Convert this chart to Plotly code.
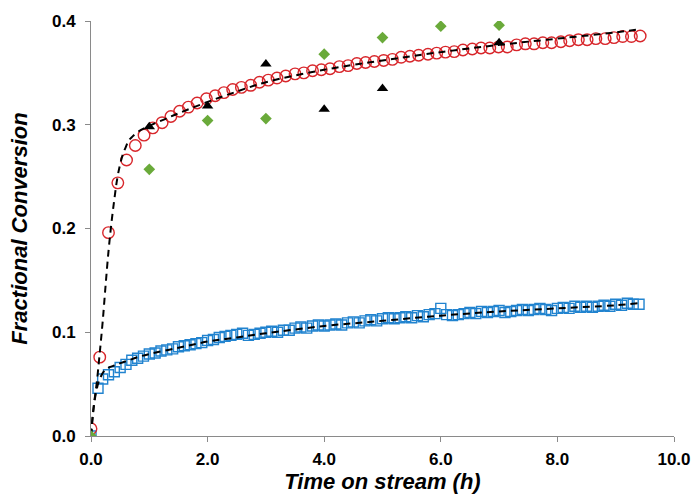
import plotly.graph_objects as go

# ---- data ----
red_t = [0.00, 0.15, 0.30, 0.46, 0.61, 0.76, 0.91, 1.06, 1.22, 1.37, 1.52, 1.67, 1.82, 1.98,
         2.13, 2.28, 2.43, 2.58, 2.74, 2.89, 3.04, 3.19, 3.34, 3.50, 3.65, 3.80, 3.95, 4.10,
         4.26, 4.41, 4.56, 4.71, 4.86, 5.02, 5.17, 5.32, 5.47, 5.62, 5.78, 5.93, 6.08, 6.23,
         6.38, 6.54, 6.69, 6.84, 6.99, 7.14, 7.30, 7.45, 7.60, 7.75, 7.90, 8.06, 8.21, 8.36,
         8.51, 8.66, 8.82, 8.97, 9.12, 9.27, 9.42]
red_y = [0.007, 0.076, 0.196, 0.244, 0.266, 0.280, 0.290, 0.297, 0.302, 0.308, 0.313, 0.317,
         0.321, 0.325, 0.328, 0.331, 0.334, 0.336, 0.338, 0.341, 0.343, 0.345, 0.347, 0.349,
         0.350, 0.352, 0.353, 0.354, 0.356, 0.357, 0.359, 0.360, 0.361, 0.362, 0.363, 0.365,
         0.366, 0.367, 0.368, 0.369, 0.370, 0.3705, 0.372, 0.373, 0.374, 0.374, 0.375, 0.375,
         0.377, 0.378, 0.378, 0.379, 0.379, 0.380, 0.381, 0.382, 0.382, 0.383, 0.383, 0.384,
         0.385, 0.385, 0.3855]

red_fit_t = [0, 0.05, 0.1, 0.15, 0.2, 0.25, 0.3, 0.35, 0.4, 0.45, 0.5, 0.55, 0.6, 0.65, 0.7,
             0.8, 1.0, 1.25, 1.5, 2.0, 2.5, 3.0, 4.0, 5.0, 6.0, 7.0, 8.0, 9.0, 9.4]
red_fit_y = [0.0, 0.030, 0.052, 0.080, 0.110, 0.145, 0.178, 0.205, 0.228, 0.248, 0.262,
             0.272, 0.279, 0.285, 0.288, 0.293, 0.299, 0.305, 0.311, 0.322, 0.332, 0.341,
             0.353, 0.362, 0.370, 0.377, 0.383, 0.389, 0.392]

blue_t = [0.0, 0.12, 0.2, 0.3, 0.4, 0.5, 0.6, 0.7, 0.8, 0.9, 1.0, 1.1, 1.2, 1.3, 1.4, 1.5,
          1.6, 1.7, 1.8, 1.9, 2.0, 2.1, 2.2, 2.3, 2.4, 2.5, 2.6, 2.7, 2.8, 2.9, 3.0, 3.1,
          3.2, 3.3, 3.4, 3.5, 3.6, 3.7, 3.8, 3.9, 4.0, 4.1, 4.2, 4.3, 4.4, 4.5, 4.6, 4.7,
          4.8, 4.9, 5.0, 5.1, 5.2, 5.3, 5.4, 5.5, 5.6, 5.7, 5.8, 5.9, 6.0, 6.1, 6.2, 6.3,
          6.4, 6.5, 6.6, 6.7, 6.8, 6.9, 7.0, 7.1, 7.2, 7.3, 7.4, 7.5, 7.6, 7.7, 7.8, 7.9,
          8.0, 8.1, 8.2, 8.3, 8.4, 8.5, 8.6, 8.7, 8.8, 8.9, 9.0, 9.1, 9.2, 9.3, 9.4]
blue_y = [0.000, 0.046, 0.055, 0.059, 0.062, 0.066, 0.069, 0.073, 0.075, 0.077, 0.079, 0.080,
          0.082, 0.083, 0.084, 0.086, 0.087, 0.088, 0.089, 0.090, 0.092, 0.093, 0.095, 0.096,
          0.097, 0.098, 0.099, 0.097, 0.098, 0.099, 0.100, 0.101, 0.100, 0.102, 0.102, 0.104,
          0.105, 0.104, 0.106, 0.107, 0.106, 0.107, 0.108, 0.107, 0.109, 0.110, 0.109, 0.111,
          0.112, 0.111, 0.113, 0.114, 0.113, 0.114, 0.115, 0.114, 0.116, 0.115, 0.117, 0.118,
          0.123, 0.117, 0.116, 0.117, 0.118, 0.119, 0.118, 0.120, 0.119, 0.120, 0.121, 0.119,
          0.120, 0.121, 0.122, 0.121, 0.122, 0.123, 0.122, 0.121, 0.123, 0.124, 0.123, 0.125,
          0.124, 0.125, 0.124, 0.125, 0.126, 0.125, 0.127, 0.126, 0.128, 0.127, 0.127]

blue_fit_t = [0, 0.03, 0.08, 0.15, 0.25, 0.4, 0.6, 0.8, 1.0, 1.5, 2.0, 2.5, 3.0, 4.0, 5.0,
              6.0, 7.0, 8.0, 9.0, 9.4]
blue_fit_y = [0.0, 0.020, 0.040, 0.055, 0.064, 0.068, 0.072, 0.076, 0.079, 0.085, 0.091,
              0.095, 0.099, 0.106, 0.111, 0.116, 0.120, 0.123, 0.126, 0.128]

tri_t = [0, 1, 2, 3, 4, 5, 7]
tri_y = [0.0, 0.298, 0.318, 0.3585, 0.315, 0.335, 0.379]

dia_t = [0, 1, 2, 3, 4, 5, 6, 7]
dia_y = [0.0, 0.257, 0.304, 0.306, 0.368, 0.384, 0.395, 0.396]

x_ticks = [0, 2, 4, 6, 8, 10]
y_ticks = [0.0, 0.1, 0.2, 0.3, 0.4]

RED = "#d8262b"
BLUE = "#2183cf"
GREEN = "#6aaa3a"
AXIS = "#8a8a8a"
FONT = "Liberation Sans, Arial, sans-serif"

fig = go.Figure()
fig.add_trace(go.Scatter(x=blue_t, y=blue_y, mode="markers",
                         marker=dict(symbol="square-open", size=10, color=BLUE,
                                     line=dict(width=1.4, color=BLUE))))
fig.add_trace(go.Scatter(x=red_t, y=red_y, mode="markers",
                         marker=dict(symbol="circle-open", size=11.5, color=RED,
                                     line=dict(width=1.4, color=RED))))
fig.add_trace(go.Scatter(x=blue_fit_t, y=blue_fit_y, mode="lines", line_shape="spline",
                         line=dict(color="black", width=2, dash="7px,5px")))
fig.add_trace(go.Scatter(x=red_fit_t, y=red_fit_y, mode="lines", line_shape="spline",
                         line=dict(color="black", width=2, dash="7px,5px")))
fig.add_trace(go.Scatter(x=tri_t, y=tri_y, mode="markers",
                         marker=dict(symbol="triangle-up", size=10, color="black")))
fig.add_trace(go.Scatter(x=dia_t, y=dia_y, mode="markers",
                         marker=dict(symbol="diamond", size=9, color=GREEN)))

fig.update_layout(
    width=695, height=494,
    margin=dict(l=91, r=21, t=21, b=58),
    paper_bgcolor="white", plot_bgcolor="white",
    showlegend=False,
    font=dict(family=FONT, color="black"),
)
fig.update_xaxes(
    range=[0, 10], tickvals=x_ticks, tickformat=".1f",
    automargin=False, ticklabeloverflow="allow",
    showgrid=False, zeroline=False,
    showline=True, linecolor=AXIS, linewidth=1,
    ticks="outside", ticklen=5, tickcolor=AXIS,
    tickfont=dict(size=17, family=FONT, weight="bold"),
    ticklabelstandoff=3,
    title=dict(text="Time on stream (h)", standoff=8,
               font=dict(size=22, family=FONT, weight="bold", style="italic")),
)
fig.update_yaxes(
    range=[0, 0.4], tickvals=y_ticks, tickformat=".1f",
    automargin=False,
    showgrid=False, zeroline=False,
    showline=True, linecolor=AXIS, linewidth=1,
    ticks="outside", ticklen=5, tickcolor=AXIS,
    tickfont=dict(size=17, family=FONT, weight="bold"),
    ticklabelstandoff=6,
    title=dict(text="Fractional Conversion", standoff=18,
               font=dict(size=22, family=FONT, weight="bold", style="italic")),
)

# remove the page's default body margin so the 695x494 figure fills the window exactly
fig.write_html("out.html",
               config={"displayModeBar": False},
               post_script="document.body.style.margin='0';document.body.style.overflow='hidden';")
